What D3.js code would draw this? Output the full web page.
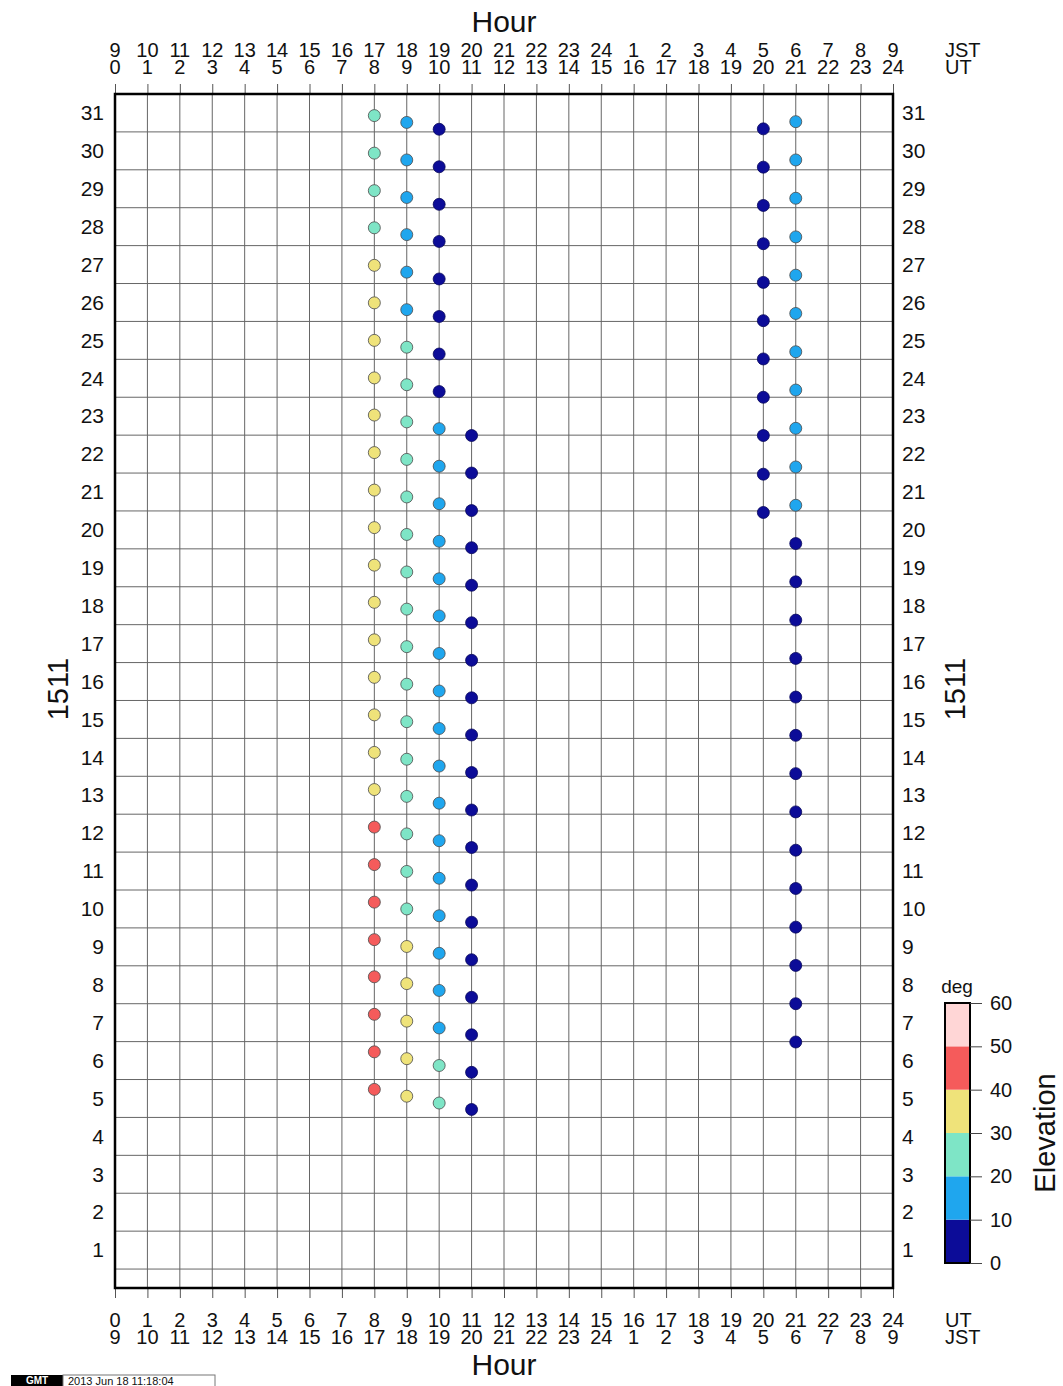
<!DOCTYPE html>
<html>
<head>
<meta charset="utf-8">
<script src="https://cdn.jsdelivr.net/npm/d3@7"></script>
<style>
  body { margin: 0; background: #fff; }
  svg { display: block; font-family: "Liberation Sans", Arial, Helvetica, sans-serif; }
</style>
</head>
<body>
<svg id="chart" width="1063" height="1386"></svg>
<script>
// ---- tick labels ----
const utLabels  = ["0","1","2","3","4","5","6","7","8","9","10","11","12","13","14","15","16","17","18","19","20","21","22","23","24"];
const jstLabels = ["9","10","11","12","13","14","15","16","17","18","19","20","21","22","23","24","1","2","3","4","5","6","7","8","9"];
const dayLabels = [1,2,3,4,5,6,7,8,9,10,11,12,13,14,15,16,17,18,19,20,21,22,23,24,25,26,27,28,29,30,31];
const monthLabel = "1511";

// ---- elevation classes (deg) ----
const elevBreaks = [0, 10, 20, 30, 40, 50, 60];
const elevColors = ["#0c0c98", "#1fa6ee", "#7ee5c6", "#efe37a", "#f55b5b", "#ffd6d6"];

// ---- passes: UT hour, first/last day (top to bottom), elevation per day, row lag (1/100 day) ----
const passHours = [8, 9, 10, 11, 20, 21];
const passFirstDay = [31, 31, 31, 23, 31, 31];
const passLastDay  = [5, 5, 5, 5, 21, 7];

const elevUT08 = [25,25,25,25, 35,35,35,35,35,35,35,35,35,35,35,35,35,35,35, 45,45,45,45,45,45,45,45];
const elevUT09 = [15,15,15,15,15,15, 25,25,25,25,25,25,25,25,25,25,25,25,25,25,25,25, 35,35,35,35,35];
const elevUT10 = [5,5,5,5,5,5,5,5, 15,15,15,15,15,15,15,15,15,15,15,15,15,15,15,15,15, 25,25];
const elevUT11 = [5,5,5,5,5,5,5,5,5,5,5,5,5,5,5,5,5,5,5];
const elevUT20 = [5,5,5,5,5,5,5,5,5,5,5];
const elevUT21 = [15,15,15,15,15,15,15,15,15,15,15, 5,5,5,5,5,5,5,5,5,5,5,5,5,5];

const lagUT08 = [7,6,5,3,2,1,0,-1,-3,-4,-5,-6,-7,-9,-10,-11,-12,-13,-15,-16,-17,-18,-19,-21,-22,-23,-24];
const lagUT09 = [25,24,23,21,20,19,18,17,15,14,13,12,11,9,8,7,6,5,3,2,1,0,-1,-3,-4,-5,-6];
const lagUT10 = [43,42,41,39,38,37,36,35,33,32,31,30,29,27,26,25,24,23,21,20,19,18,17,15,14,13,12];
const lagUT11 = [51,50,49,47,46,45,44,43,41,40,39,38,37,35,34,33,32,31,29];
const lagUT20 = [42,43,44,45,47,48,49,50,51,53,54];
const lagUT21 = [23,24,25,27,28,29,30,31,32,34,35,36,37,38,39,41,42,43,44,45,46,48,49,50,51];

const passElev = [elevUT08, elevUT09, elevUT10, elevUT11, elevUT20, elevUT21];
const passLag  = [lagUT08, lagUT09, lagUT10, lagUT11, lagUT20, lagUT21];

// flatten into one record per dot
const dots = [];
passHours.forEach((h, i) => {
  for (let d = passFirstDay[i], k = 0; d >= passLastDay[i]; d--, k++) {
    dots.push({ ut: h, day: d, elev: passElev[i][k], pos: d - passLag[i][k] / 100 });
  }
});

// ---- layout ----
const svg = d3.select("#chart");
svg.append("rect").attr("width", 1063).attr("height", 1386).attr("fill", "#fff");

const x = d3.scaleLinear().domain([0, 24]).range([115, 893]);
const y = d3.scaleLinear().domain([0, 31.5]).range([1288, 94]);
const color = d3.scaleThreshold().domain(elevBreaks.slice(1, -1)).range(elevColors);

const hourTicks = utLabels.map(Number);

// grid
const grid = svg.append("g").attr("stroke", "#666").attr("stroke-width", 1);
grid.selectAll("line.v").data(hourTicks.slice(1, -1)).join("line")
  .attr("x1", d => x(d)).attr("x2", d => x(d))
  .attr("y1", y(31.5)).attr("y2", y(0));
grid.selectAll("line.h").data(dayLabels.map(d => d - 0.5)).join("line")
  .attr("x1", x(0)).attr("x2", x(24))
  .attr("y1", d => y(d)).attr("y2", d => y(d));

// hour tick marks above and below the frame
const topAxis = svg.append("g").attr("transform", `translate(0,${y(31.5)})`)
  .call(d3.axisTop(x).tickValues(hourTicks).tickSize(10).tickFormat(""));
const botAxis = svg.append("g").attr("transform", `translate(0,${y(0)})`)
  .call(d3.axisBottom(x).tickValues(hourTicks).tickSize(10).tickFormat(""));
[topAxis, botAxis].forEach(g => {
  g.select(".domain").remove();
  g.selectAll(".tick line").attr("stroke", "#555");
});

// two-row hour labels
const hourFont = 20;
function hourRows(rowA, rowB, baseA, baseB, nameA, nameB) {
  const g = svg.append("g").attr("font-size", hourFont).attr("fill", "#111").attr("text-anchor", "middle");
  g.selectAll("text.a").data(hourTicks).join("text")
    .attr("x", d => x(d)).attr("y", baseA).text((d, i) => rowA[i]);
  g.selectAll("text.b").data(hourTicks).join("text")
    .attr("x", d => x(d)).attr("y", baseB).text((d, i) => rowB[i]);
  g.append("text").attr("x", 945).attr("y", baseA).attr("text-anchor", "start").text(nameA);
  g.append("text").attr("x", 945).attr("y", baseB).attr("text-anchor", "start").text(nameB);
}
hourRows(jstLabels, utLabels, 57, 74, "JST", "UT");
hourRows(utLabels, jstLabels, 1327, 1344, "UT", "JST");

svg.append("text").attr("x", x(12)).attr("y", 32).attr("text-anchor", "middle")
  .attr("font-size", 30).attr("fill", "#111").text("Hour");
svg.append("text").attr("x", x(12)).attr("y", 1375).attr("text-anchor", "middle")
  .attr("font-size", 30).attr("fill", "#111").text("Hour");

// day labels on both sides
const leftAxis = svg.append("g").attr("transform", `translate(${x(0)},0)`)
  .call(d3.axisLeft(y).tickValues(dayLabels).tickSize(0).tickPadding(11).tickFormat(d3.format("d")));
const rightAxis = svg.append("g").attr("transform", `translate(${x(24)},0)`)
  .call(d3.axisRight(y).tickValues(dayLabels).tickSize(0).tickPadding(9).tickFormat(d3.format("d")));
[leftAxis, rightAxis].forEach(g => {
  g.select(".domain").remove();
  g.selectAll("text").attr("font-size", 21).attr("fill", "#111")
    .attr("font-family", '"Liberation Sans", Arial, sans-serif');
});

// month label, rotated, left and right
[58, 955].forEach(cx => {
  svg.append("text").attr("transform", `translate(${cx + 10},${y(15.8)}) rotate(-90)`)
    .attr("text-anchor", "middle").attr("font-size", 29).attr("fill", "#111").text(monthLabel);
});

// frame
svg.append("rect").attr("x", x(0)).attr("y", y(31.5))
  .attr("width", x(24) - x(0)).attr("height", y(0) - y(31.5))
  .attr("fill", "none").attr("stroke", "#000").attr("stroke-width", 2.5);

// passes
svg.append("g").selectAll("circle").data(dots).join("circle")
  .attr("cx", d => x(d.ut)).attr("cy", d => y(d.pos)).attr("r", 6)
  .attr("fill", d => color(d.elev))
  .attr("stroke", d => d.elev < 10 ? "#08085a" : "#4a4a4a").attr("stroke-width", 0.8);

// ---- elevation colour bar ----
const ly = d3.scaleLinear().domain([0, 60]).range([1263, 1003]);
const bar = svg.append("g");
const bins = elevColors.map((c, i) => ({ lo: elevBreaks[i], hi: elevBreaks[i + 1], c }));
bar.selectAll("rect").data(bins).join("rect")
  .attr("x", 945).attr("width", 25)
  .attr("y", d => ly(d.hi)).attr("height", d => ly(d.lo) - ly(d.hi))
  .attr("fill", d => d.c);
bar.append("rect").attr("x", 945).attr("y", ly(60)).attr("width", 25).attr("height", ly(0) - ly(60))
  .attr("fill", "none").attr("stroke", "#000").attr("stroke-width", 2);
const legAxis = svg.append("g").attr("transform", "translate(970,0)")
  .call(d3.axisRight(ly).tickValues(elevBreaks).tickSize(12).tickPadding(8).tickFormat(d3.format("d")));
legAxis.select(".domain").remove();
legAxis.selectAll(".tick line").attr("stroke", "#444");
legAxis.selectAll("text").attr("font-size", 20).attr("fill", "#111")
  .attr("font-family", '"Liberation Sans", Arial, sans-serif');
svg.append("text").attr("x", 957).attr("y", 993).attr("text-anchor", "middle")
  .attr("font-size", 19).attr("fill", "#111").text("deg");
svg.append("text").attr("transform", `translate(1055,${ly(30)}) rotate(-90)`)
  .attr("text-anchor", "middle").attr("font-size", 29).attr("fill", "#111").text("Elevation");

// ---- timestamp stamp ----
const stamp = svg.append("g");
stamp.append("rect").attr("x", 11).attr("y", 1375).attr("width", 52).attr("height", 11).attr("fill", "#000");
stamp.append("text").attr("x", 37).attr("y", 1384).attr("text-anchor", "middle")
  .attr("font-size", 10).attr("font-weight", "bold").attr("fill", "#fff").text("GMT");
stamp.append("rect").attr("x", 63).attr("y", 1375).attr("width", 152).attr("height", 12)
  .attr("fill", "#fff").attr("stroke", "#777").attr("stroke-width", 1);
stamp.append("text").attr("x", 68).attr("y", 1384.5).attr("font-size", 11).attr("fill", "#111")
  .text("2013 Jun 18 11:18:04");
</script>
</body>
</html>
